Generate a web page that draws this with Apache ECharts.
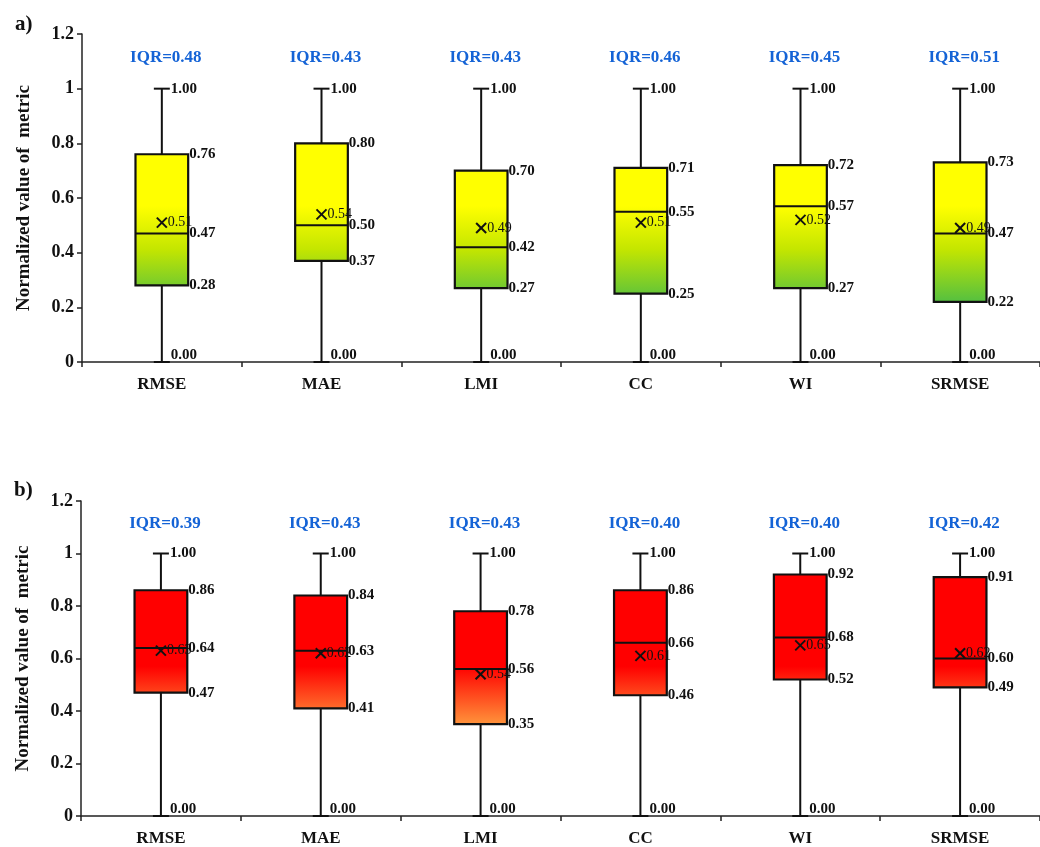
<!DOCTYPE html>
<html>
<head>
<meta charset="utf-8">
<script src="https://cdn.jsdelivr.net/npm/echarts@6/dist/echarts.min.js"></script>
<style>
html,body{margin:0;padding:0;background:#fff;}
#chart{width:1040px;height:847px;}
</style>
</head>
<body>
<div id="chart"></div>
<script>
const categories = ['RMSE', 'MAE', 'LMI', 'CC', 'WI', 'SRMSE'];
const yTicks = [0, 0.2, 0.4, 0.6, 0.8, 1, 1.2];

// Panel a
const aMin = [0, 0, 0, 0, 0, 0];
const aQ1 = [0.28, 0.37, 0.27, 0.25, 0.27, 0.22];
const aMedian = [0.47, 0.50, 0.42, 0.55, 0.57, 0.47];
const aQ3 = [0.76, 0.80, 0.70, 0.71, 0.72, 0.73];
const aMax = [1, 1, 1, 1, 1, 1];
const aMean = [0.51, 0.54, 0.49, 0.51, 0.52, 0.49];
const aIQR = [0.48, 0.43, 0.43, 0.46, 0.45, 0.51];

// Panel b
const bMin = [0, 0, 0, 0, 0, 0];
const bQ1 = [0.47, 0.41, 0.35, 0.46, 0.52, 0.49];
const bMedian = [0.64, 0.63, 0.56, 0.66, 0.68, 0.60];
const bQ3 = [0.86, 0.84, 0.78, 0.86, 0.92, 0.91];
const bMax = [1, 1, 1, 1, 1, 1];
const bMean = [0.63, 0.62, 0.54, 0.61, 0.65, 0.62];
const bIQR = [0.39, 0.43, 0.43, 0.40, 0.40, 0.42];

const SERIF = '"Liberation Serif", "DejaVu Serif", serif';
const IQR_LEVEL = 1.115;

function buildData(mn, q1, md, q3, mx, mean, iqr) {
  return categories.map((c, i) => [i, mn[i], q1[i], md[i], q3[i], mx[i], mean[i], iqr[i]]);
}

function makeRender(grad) {
  return function (params, api) {
    const idx = api.value(0);
    const vMin = api.value(1), vQ1 = api.value(2), vMed = api.value(3),
          vQ3 = api.value(4), vMax = api.value(5), vMean = api.value(6), vIqr = api.value(7);
    const cx = api.coord([idx, 0])[0];
    const band = api.size([1, 0])[0];
    const hw = band * 0.165;
    const cap = band * 0.05;
    const y = v => api.coord([idx, v])[1];
    const yMin = y(vMin), yQ1 = y(vQ1), yMed = y(vMed), yQ3 = y(vQ3), yMax = y(vMax), yMean = y(vMean);
    const fill = new echarts.graphic.LinearGradient(0, y(grad.from), 0, y(grad.to), grad.stops, true);
    const lineStyle = {stroke: '#111', lineWidth: 2};
    const valFont = 'bold 15px ' + SERIF;
    const els = [
      {type: 'line', shape: {x1: cx, y1: yMin, x2: cx, y2: yMax}, style: lineStyle},
      {type: 'line', shape: {x1: cx - cap, y1: yMax, x2: cx + cap, y2: yMax}, style: lineStyle},
      {type: 'line', shape: {x1: cx - cap, y1: yMin, x2: cx + cap, y2: yMin}, style: lineStyle},
      {type: 'rect', shape: {x: cx - hw, y: yQ3, width: 2 * hw, height: yQ1 - yQ3}, style: {fill: fill, stroke: '#111', lineWidth: 2.2}},
      {type: 'line', shape: {x1: cx - hw, y1: yMed, x2: cx + hw, y2: yMed}, style: lineStyle},
      {type: 'line', shape: {x1: cx - 5, y1: yMean - 5, x2: cx + 5, y2: yMean + 5}, style: {stroke: '#111', lineWidth: 2}},
      {type: 'line', shape: {x1: cx - 5, y1: yMean + 5, x2: cx + 5, y2: yMean - 5}, style: {stroke: '#111', lineWidth: 2}},
      {type: 'text', style: {text: vMean.toFixed(2), x: cx + 6, y: yMean, font: '14px ' + SERIF, fill: '#111', align: 'left', verticalAlign: 'middle'}},
      {type: 'text', style: {text: vMax.toFixed(2), x: cx + cap + 1, y: yMax, font: valFont, fill: '#111', align: 'left', verticalAlign: 'middle'}},
      {type: 'text', style: {text: vMin.toFixed(2), x: cx + cap + 1, y: yMin - 7, font: valFont, fill: '#111', align: 'left', verticalAlign: 'middle'}},
      {type: 'text', style: {text: vQ3.toFixed(2), x: cx + hw + 1, y: yQ3, font: valFont, fill: '#111', align: 'left', verticalAlign: 'middle'}},
      {type: 'text', style: {text: vMed.toFixed(2), x: cx + hw + 1, y: yMed, font: valFont, fill: '#111', align: 'left', verticalAlign: 'middle'}},
      {type: 'text', style: {text: vQ1.toFixed(2), x: cx + hw + 1, y: yQ1, font: valFont, fill: '#111', align: 'left', verticalAlign: 'middle'}},
      {type: 'text', style: {text: 'IQR=' + vIqr.toFixed(2), x: cx + 4, y: y(IQR_LEVEL), font: 'bold 17px ' + SERIF, fill: '#1463d6', align: 'center', verticalAlign: 'middle'}}
    ];
    return {type: 'group', children: els};
  };
}

const gradA = {from: 0.57, to: 0.22, stops: [
  {offset: 0, color: '#ffff00'}, {offset: 0.45, color: '#c4e600'}, {offset: 1, color: '#55c040'}]};
const gradB = {from: 0.57, to: 0.33, stops: [
  {offset: 0, color: '#ff0000'}, {offset: 1, color: '#ffa040'}]};

function xAxisCfg(gi) {
  return {
    type: 'category', gridIndex: gi, data: categories, boundaryGap: true,
    axisLine: {lineStyle: {color: '#222', width: 1.5}},
    axisTick: {show: true, length: 5, lineStyle: {color: '#222', width: 1.5}},
    axisLabel: {fontFamily: SERIF, fontWeight: 'bold', fontSize: 17, color: '#111', margin: 14}
  };
}
function yAxisCfg(gi) {
  return {
    type: 'value', gridIndex: gi, min: yTicks[0], max: yTicks[yTicks.length - 1], interval: 0.2,
    name: 'Normalized value of  metric', nameLocation: 'middle', nameGap: 48, nameRotate: 90,
    nameTextStyle: {fontFamily: SERIF, fontWeight: 'bold', fontSize: 19, color: '#111'},
    axisLine: {show: true, lineStyle: {color: '#222', width: 1.5}},
    axisTick: {show: true, length: 5, lineStyle: {color: '#222', width: 1.5}},
    splitLine: {show: false},
    axisLabel: {fontFamily: SERIF, fontWeight: 'bold', fontSize: 18, color: '#111', margin: 8}
  };
}

const chart = echarts.init(document.getElementById('chart'), null, {renderer: 'canvas'});
chart.setOption({
  backgroundColor: '#fff',
  animation: false,
  title: [
    {text: 'a)', left: 10, top: 9, textStyle: {fontFamily: SERIF, fontWeight: 'bold', fontSize: 21, color: '#111'}},
    {text: 'b)', left: 9, top: 475, textStyle: {fontFamily: SERIF, fontWeight: 'bold', fontSize: 21, color: '#111'}}
  ],
  grid: [
    {left: 82, top: 34, height: 328, right: -8},
    {left: 81, top: 501, height: 317, right: -8}
  ],
  xAxis: [xAxisCfg(0), xAxisCfg(1)],
  yAxis: [yAxisCfg(0), yAxisCfg(1)],
  series: [
    {type: 'custom', xAxisIndex: 0, yAxisIndex: 0, clip: false,
     renderItem: makeRender(gradA),
     encode: {x: 0, y: [1, 2, 3, 4, 5]},
     data: buildData(aMin, aQ1, aMedian, aQ3, aMax, aMean, aIQR)},
    {type: 'custom', xAxisIndex: 1, yAxisIndex: 1, clip: false,
     renderItem: makeRender(gradB),
     encode: {x: 0, y: [1, 2, 3, 4, 5]},
     data: buildData(bMin, bQ1, bMedian, bQ3, bMax, bMean, bIQR)}
  ]
});
</script>
</body>
</html>
